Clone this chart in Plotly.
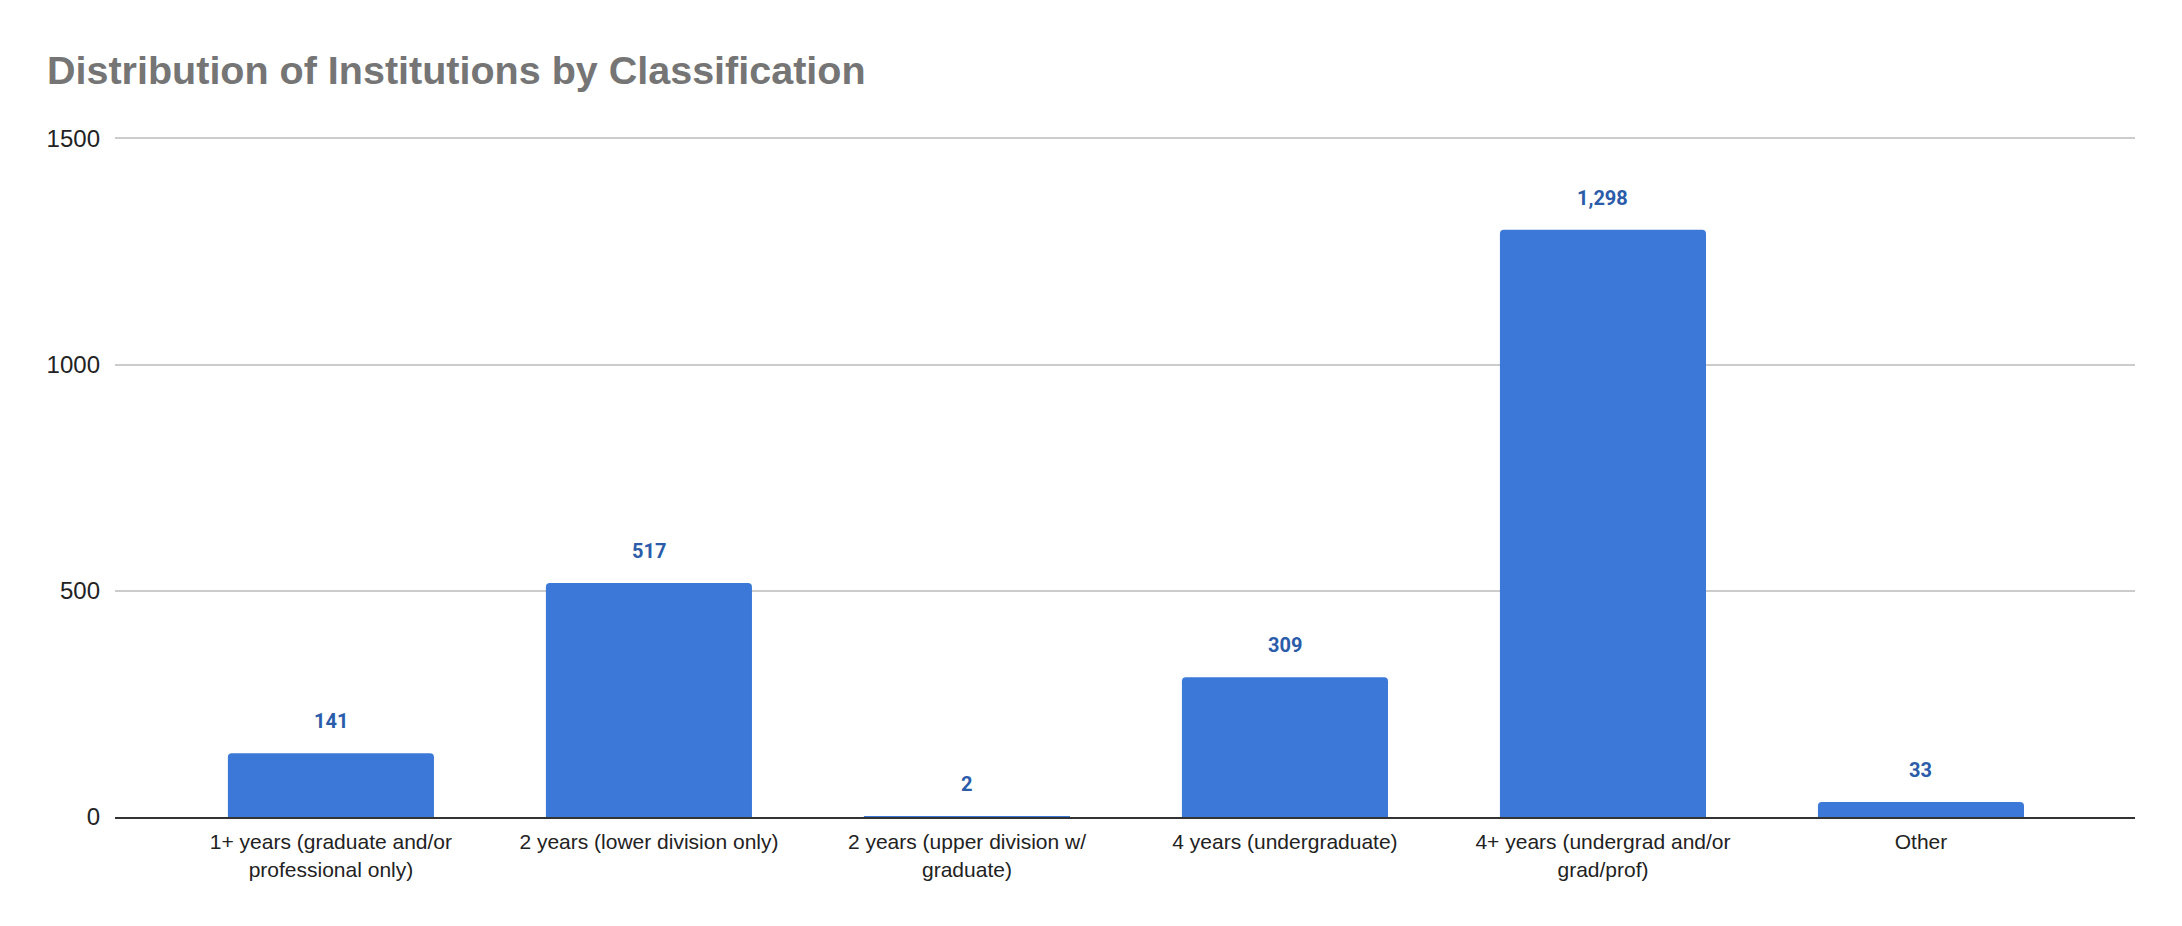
#!/usr/bin/env python3
# -*- coding: utf-8 -*-
"""
Distribution of Institutions by Classification - bar chart
"""

import plotly.graph_objects as go

# data
categories = ["1+ years", "2 years lower", "2 years upper", "4 years", "4+ years", "Other"]
tick_labels = ["1+ years (graduate and/or<br>professional only)",
               "2 years (lower division only)",
               "2 years (upper division w/<br>graduate)",
               "4 years (undergraduate)",
               "4+ years (undergrad and/or<br>grad/prof)",
               "Other"]
counts = [141, 517, 2, 309, 1298, 33]
y_ticks = [0, 500, 1000, 1500]

W, H = 2182, 926
PAD = 8  # default body margin of the html page
BAR = "#3c78d8"
LABEL = "#2a5caa"

fig = go.Figure()

fig.add_trace(go.Bar(
    x=list(range(len(categories))),
    y=counts,
    marker=dict(color=BAR, cornerradius=4, line=dict(width=0)),
    hoverinfo="y",
    showlegend=False))

# value labels above the bars
annotations = [dict(x=i, y=v, xref="x", yref="y",
                    text=f"{v:,}", showarrow=False,
                    yanchor="bottom", yshift=18,
                    font=dict(family="Roboto", size=20, color=LABEL, weight="bold"))
               for i, v in enumerate(counts)]

# y range a bit over 1500 so the top gridline is still drawn
fig.update_layout(
    width=W - 2 * PAD, height=H - 2 * PAD,
    margin=dict(l=115 - PAD, r=47 - PAD, t=136 - PAD, b=109 - PAD),
    paper_bgcolor="white",
    plot_bgcolor="white",
    bargap=0.352,
    annotations=annotations,
    title=dict(text="Distribution of Institutions by Classification",
               x=(47 - PAD) / (W - 2 * PAD), xanchor="left", xref="container",
               y=1 - (70 - PAD) / (H - 2 * PAD), yanchor="middle", yref="container",
               font=dict(family="Liberation Sans", size=39.5, color="#757575", weight="bold")))

fig.update_xaxes(
    range=[-0.679, 5.673],
    tickvals=list(range(len(categories))),
    ticktext=tick_labels,
    tickfont=dict(family="Liberation Sans", size=21, color="#222222"),
    showgrid=False,
    showline=True, linecolor="#333333", linewidth=2,
    layer="below traces",
    ticks="",
    ticklabelstandoff=5)

fig.update_yaxes(
    range=[0, 1505],
    tickvals=y_ticks,
    tickfont=dict(family="Liberation Sans", size=24, color="#222222"),
    showgrid=True, gridcolor="#cccccc", gridwidth=1.5,
    zeroline=False,
    ticks="",
    ticklabelstandoff=14)

fig.write_html("out.html")
